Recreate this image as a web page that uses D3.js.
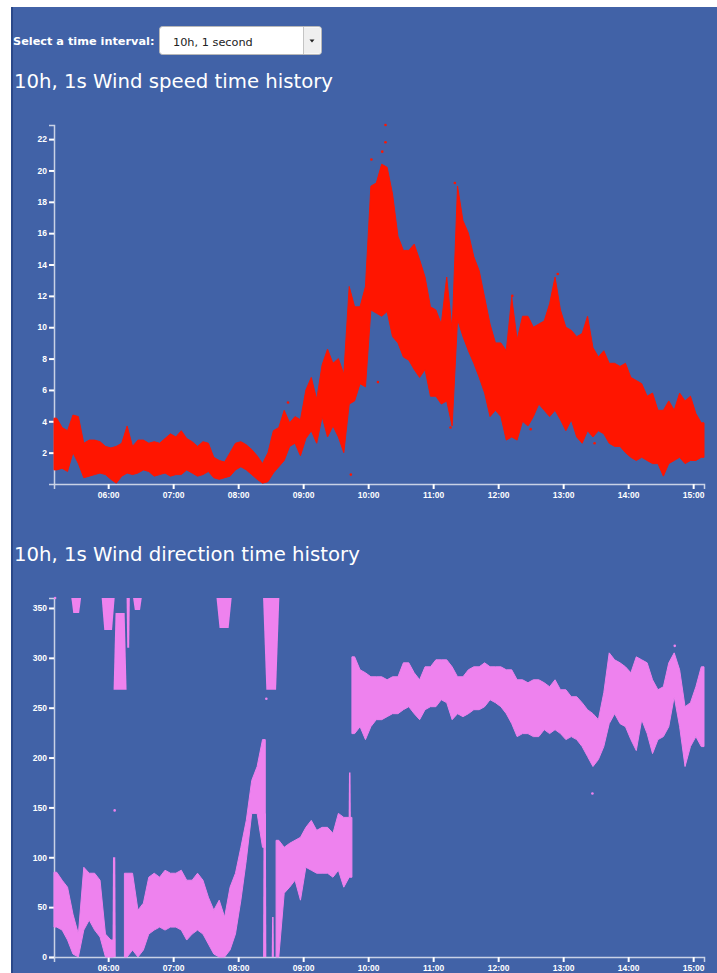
<!DOCTYPE html>
<html>
<head>
<meta charset="utf-8">
<script src="https://cdn.jsdelivr.net/npm/d3@7"></script>
<style>
  body { margin: 0; background: #fff; }
  svg { display: block; }
</style>
</head>
<body>
<div id="page"></div>
<script>
// 5-minute buckets starting at 05:10, value envelope
const day = "2015-06-01";
const firstBucket = "05:10";
const bucketMinutes = 5;

const speedLo = [0.9, 1.0, 0.8, 2.0, 1.3, 0.4, 0.5, 0.6, 0.7, 0.6,
  0.3, 0.05, 0.5, 0.7, 0.6, 0.7, 0.9, 0.8, 0.5, 0.6,
  0.7, 0.5, 0.6, 0.6, 0.9, 0.7, 0.5, 0.6, 0.8, 0.4,
  0.3, 0.4, 0.5, 0.9, 1.1, 0.9, 0.6, 0.3, 0.05, 0.15,
  0.7, 1.1, 1.5, 2.4, 2.6, 1.8, 2.9, 3.4, 2.6, 4.3,
  3.0, 3.7, 3.0, 2.0, 5.1, 5.3, 6.4, 6.2, 11.1, 10.9,
  10.7, 11.0, 9.4, 9.0, 8.1, 7.9, 7.3, 6.8, 7.3, 5.6,
  5.6, 5.1, 5.3, 3.7, 10.5, 9.4, 8.5, 7.7, 6.8, 5.8,
  4.3, 4.7, 4.3, 2.8, 3.0, 2.8, 4.0, 3.7, 4.3, 5.1,
  4.7, 4.3, 4.7, 4.1, 3.4, 4.1, 3.0, 2.6, 3.4, 3.0,
  3.4, 3.2, 2.6, 2.4, 2.4, 2.0, 1.7, 1.5, 1.7, 1.5,
  1.3, 1.3, 0.5, 1.3, 1.5, 1.7, 1.3, 1.5, 1.5, 1.7];
const speedHi = [4.2, 3.6, 3.4, 4.4, 4.3, 2.6, 2.8, 2.8, 2.7, 2.4,
  2.3, 2.4, 2.6, 3.7, 2.4, 2.8, 2.8, 2.6, 2.7, 2.6,
  2.9, 3.2, 3.0, 3.4, 2.9, 2.7, 2.4, 2.7, 2.6, 1.7,
  1.5, 1.4, 2.0, 2.6, 2.7, 2.5, 2.2, 1.8, 1.3, 2.0,
  3.4, 3.6, 4.7, 3.9, 4.3, 4.1, 6.0, 6.8, 5.4, 7.6,
  8.6, 7.7, 8.0, 7.0, 12.6, 11.3, 11.3, 12.6, 19.0, 19.2,
  20.4, 20.2, 18.5, 15.8, 14.9, 14.9, 15.3, 14.3, 13.2, 11.3,
  11.1, 10.2, 13.2, 9.8, 19.0, 16.8, 16.0, 14.5, 13.6, 11.9,
  10.2, 9.0, 9.0, 8.5, 11.9, 9.2, 10.7, 10.7, 10.0, 10.2,
  10.4, 11.5, 13.2, 11.1, 10.0, 9.8, 9.4, 9.6, 10.7, 8.7,
  8.1, 8.5, 7.7, 7.7, 7.5, 7.7, 6.8, 6.6, 6.4, 5.6,
  5.8, 4.7, 4.7, 5.3, 4.7, 5.8, 5.3, 5.6, 4.5, 3.9];

const dirLo = [30, 27, 17, 3, 0, 27, 37, 27, 20, 0,
  0, null, null, 0, 7, 0, 7, 23, 27, 30,
  27, 30, 30, 27, 17, 23, 27, 23, 13, 3,
  0, 0, 7, 23, 57, 97, 144, 144, 110, null,
  null, 0, 64, 70, 77, 57, 90, 87, 84, 84,
  84, 80, 87, 70, 80, 224, 231, 218, 231, 238,
  238, 241, 244, 244, 248, 251, 244, 238, 248, 251,
  251, 258, 255, 238, 244, 241, 244, 248, 248, 251,
  258, 255, 251, 244, 234, 221, 224, 224, 221, 221,
  228, 224, 228, 224, 218, 221, 218, 211, 201, 191,
  198, 211, 234, 244, 234, 231, 218, 207, 238, 224,
  204, 218, 221, 231, 261, 231, 191, 211, 221, 211];
const dirHi = [85, 77, 70, 43, 23, 90, 84, 84, 77, 23,
  17, null, null, 84, 84, 47, 54, 80, 84, 80,
  87, 84, 84, 87, 77, 77, 84, 77, 60, 47,
  57, 40, 70, 84, 110, 137, 177, 191, 218, null,
  null, 117, 110, 114, 117, 120, 130, 137, 127, 130,
  130, 124, 144, 140, 140, 301, 288, 285, 281, 281,
  281, 278, 281, 281, 295, 295, 285, 278, 291, 291,
  298, 298, 298, 291, 281, 281, 288, 291, 291, 295,
  291, 291, 291, 288, 288, 278, 278, 275, 278, 278,
  275, 271, 278, 268, 268, 261, 261, 255, 248, 244,
  238, 265, 305, 298, 295, 291, 285, 301, 298, 295,
  278, 268, 271, 295, 305, 288, 251, 255, 271, 291];

// wrap-around pieces near 360 and narrow spikes
const dirSegFrom = ["05:26", "05:54", "06:05", "06:17", "06:23", "07:40", "08:23", "06:04", "08:23", "08:31", "09:42"];
const dirSegTo   = ["05:35", "06:06", "06:17", "06:20", "06:31", "07:54", "08:38", "06:07", "08:26", "08:33", "09:44"];
const dirSegLo   = [345, 328, 268, 310, 348, 330, 268, 0, 0, 0, 140];
const dirSegHi   = [360, 360, 345, 360, 360, 360, 360, 100, 144, 40, 185];

const speedOutT = ["10:16", "10:16", "10:13", "10:03", "11:20", "12:55", "12:13", "09:44", "10:09", "08:46", "11:16", "12:30", "13:29"];
const speedOutV = [22.9, 21.8, 21.2, 20.7, 19.2, 13.4, 12.0, 0.6, 6.5, 5.2, 3.6, 3.5, 2.6];
const dirOutT = ["06:06", "08:26", "13:27", "05:11", "14:43"];
const dirOutV = [147, 259, 164, 360, 312];

const speedTicks = [2, 4, 6, 8, 10, 12, 14, 16, 18, 20, 22];
const dirTicks = [0, 50, 100, 150, 200, 250, 300, 350];
const hourTicks = ["06:00", "07:00", "08:00", "09:00", "10:00", "11:00", "12:00", "13:00", "14:00", "15:00"];

const width = 717, height = 973;
const parse = s => d3.timeParse("%Y-%m-%d %H:%M")(`${day} ${s}`);
const t0 = parse(firstBucket);
const bucketTime = i => d3.timeMinute.offset(t0, i * bucketMinutes);

const svg = d3.select("#page").append("svg")
  .attr("width", width)
  .attr("height", height);

// blue panel
svg.append("rect").attr("x", 11).attr("y", 7).attr("width", width - 11).attr("height", height - 7)
  .attr("fill", "#4162a7");
svg.append("rect").attr("x", 11).attr("y", 7).attr("width", 2).attr("height", height - 7)
  .attr("fill", "#2a4889");

// time selector
svg.append("text").attr("x", 13).attr("y", 45)
  .attr("font-family", "DejaVu Sans").attr("font-weight", "bold").attr("font-size", 11.3)
  .attr("fill", "#fff").text("Select a time interval:");
const sel = svg.append("g");
sel.append("rect").attr("x", 159.5).attr("y", 26.5).attr("width", 162).attr("height", 28).attr("rx", 3)
  .attr("fill", "#fff").attr("stroke", "#b8b8b8");
sel.append("rect").attr("x", 303.5).attr("y", 27.5).attr("width", 17).attr("height", 26)
  .attr("fill", "#efefef");
sel.append("line").attr("x1", 303.5).attr("x2", 303.5).attr("y1", 27).attr("y2", 54)
  .attr("stroke", "#c4c4c4");
sel.append("path").attr("d", "M309.5,39.5 L314.5,39.5 L312,42.5 Z").attr("fill", "#222");
sel.append("text").attr("x", 173).attr("y", 46)
  .attr("font-family", "DejaVu Sans").attr("font-size", 11.3).attr("fill", "#222")
  .text("10h, 1 second");

const x = d3.scaleTime()
  .domain([parse("05:10"), parse("15:10")])
  .range([54, 704]);

const styleAxis = g => {
  g.select(".domain").attr("stroke", "#c9d2e6").attr("stroke-width", 1.5);
  g.selectAll(".tick line").attr("stroke", "#fff").attr("stroke-width", 2);
  g.selectAll(".tick text")
    .attr("fill", "#fff")
    .attr("font-family", "Liberation Sans")
    .attr("font-weight", "bold")
    .attr("font-size", 8.5);
};

// split buckets into runs at gaps (null) and at big jumps of the band
function runs(lo, hi) {
  const out = [];
  let cur = [];
  lo.forEach((l, i) => {
    if (l === null) { if (cur.length) out.push(cur); cur = []; return; }
    const d = {i, t: bucketTime(i), lo: l, hi: hi[i]};
    const prev = cur[cur.length - 1];
    if (prev && Math.abs((prev.lo + prev.hi) - (d.lo + d.hi)) / 2 > 70) { out.push(cur); cur = []; }
    cur.push(d);
  });
  if (cur.length) out.push(cur);
  // points at bucket centres, run ends pinned to bucket edges
  return out.map(r => {
    const pts = r.map(d => ({t: d3.timeSecond.offset(d.t, bucketMinutes * 30), lo: d.lo, hi: d.hi}));
    pts.unshift({t: r[0].t, lo: r[0].lo, hi: r[0].hi});
    const last = r[r.length - 1];
    pts.push({t: d3.timeMinute.offset(last.t, bucketMinutes), lo: last.lo, hi: last.hi});
    return pts;
  });
}

function panel(opts) {
  const y = d3.scaleLinear().domain(opts.domain).range(opts.range);
  const g = svg.append("g");

  g.append("text")
    .attr("x", 14).attr("y", opts.titleY)
    .attr("font-family", "DejaVu Sans").attr("font-size", 19.7)
    .attr("fill", "#fff").text(opts.title);

  g.append("g")
    .attr("transform", `translate(0,${opts.range[0]})`)
    .call(d3.axisBottom(x).tickValues(hourTicks.map(parse)).tickFormat(d3.timeFormat("%H:%M"))
      .tickSize(5).tickPadding(3))
    .call(styleAxis);

  g.append("g")
    .attr("transform", "translate(54,0)")
    .call(d3.axisLeft(y).tickValues(opts.ticks).tickSize(5).tickPadding(2))
    .call(styleAxis);

  const area = d3.area()
    .x(d => x(d.t))
    .y0(d => Math.max(y(d.lo), y(d.hi) + 2))
    .y1(d => y(d.hi));

  g.append("g")
    .attr("fill", opts.color)
    .attr("stroke", opts.color)
    .attr("stroke-width", 1)
    .selectAll("path")
    .data(runs(opts.lo, opts.hi))
    .join("path")
      .attr("d", area);

  if (opts.segFrom) {
    const segs = opts.segFrom.map((f, i) => ({a: parse(f), b: parse(opts.segTo[i]), lo: opts.segLo[i], hi: opts.segHi[i]}));
    // slightly tapered cloud: full width at the dense end
    g.append("g")
      .attr("fill", opts.color)
      .selectAll("path")
      .data(segs)
      .join("path")
        .attr("d", d => {
          const xa = x(d.a), xb = Math.max(x(d.b), xa + 1.5);
          const xm = (xa + xb) / 2, w = (xb - xa) / 2;
          const top = y(d.hi), bot = y(d.lo);
          if (d.hi >= 359) {
            return `M${xa},${top}H${xb}L${xm + w * 0.6},${bot}H${xm - w * 0.6}Z`;
          }
          return `M${xm - w * 0.7},${top}H${xm + w * 0.7}L${xb},${bot}H${xa}Z`;
        });
  }

  g.append("g")
    .attr("fill", opts.color)
    .selectAll("circle")
    .data(opts.outT.map((t, i) => ({t: parse(t), v: opts.outV[i]})))
    .join("circle")
      .attr("cx", d => x(d.t))
      .attr("cy", d => y(d.v))
      .attr("r", 1.3);
}

panel({
  title: "10h, 1s Wind speed time history", titleY: 88,
  domain: [0, 22.9], range: [484, 125], ticks: speedTicks,
  lo: speedLo, hi: speedHi, outT: speedOutT, outV: speedOutV,
  color: "#ff1500"
});

panel({
  title: "10h, 1s Wind direction time history", titleY: 560.5,
  domain: [0, 360], range: [957, 598], ticks: dirTicks,
  lo: dirLo, hi: dirHi, outT: dirOutT, outV: dirOutV,
  segFrom: dirSegFrom, segTo: dirSegTo, segLo: dirSegLo, segHi: dirSegHi,
  color: "#ee82ee"
});
</script>
</body>
</html>
